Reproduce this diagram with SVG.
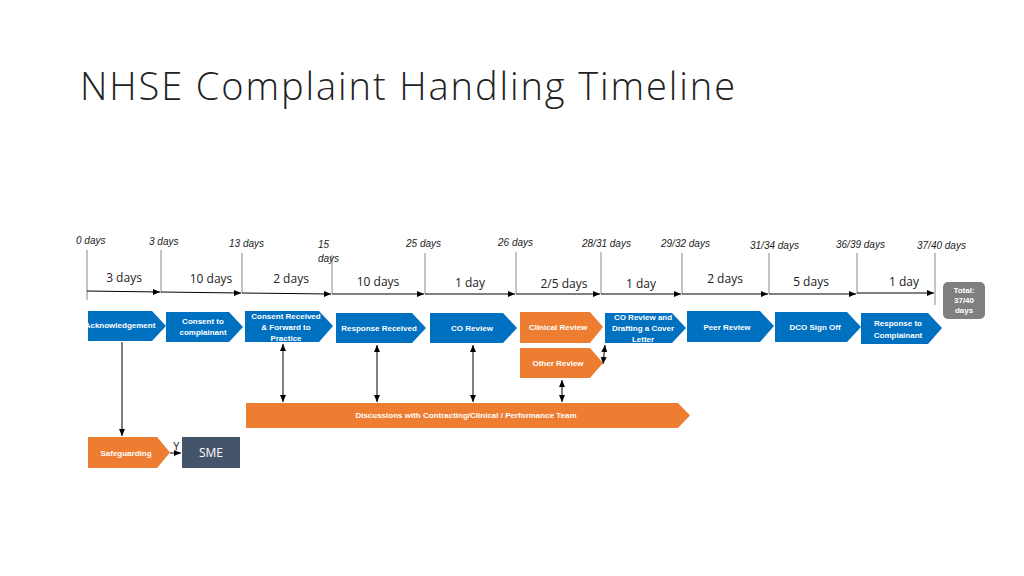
<svg xmlns="http://www.w3.org/2000/svg" width="1024" height="576" viewBox="0 0 1024 576">
<defs>
<marker id="ah" markerWidth="8" markerHeight="8" refX="7" refY="4" orient="auto" markerUnits="userSpaceOnUse"><path d="M0,1 L7,4 L0,7 z" fill="#000"/></marker>
<marker id="as" markerWidth="8" markerHeight="8" refX="1" refY="4" orient="auto" markerUnits="userSpaceOnUse"><path d="M8,1 L1,4 L8,7 z" fill="#000"/></marker>
</defs>
<style>
.b{fill:#0070C0}.o{fill:#ED7D31}
.t{font-family:"Liberation Sans",Arial,sans-serif;font-size:8px;font-weight:bold;fill:#fff;text-anchor:middle}
.d{font-family:"Liberation Sans",Arial,sans-serif;font-size:10px;font-style:italic;fill:#222}
.u{font-family:"Open Sans",sans-serif;font-size:12px;fill:#222;text-anchor:middle}
.tk{stroke:#888;stroke-width:1}
.c{stroke:#000;stroke-width:1;fill:none}
</style>
<rect width="1024" height="576" fill="#fff"/>
<text x="80" y="100" font-family="Open Sans,sans-serif" font-weight="300" font-size="38" fill="#222" textLength="655">NHSE Complaint Handling Timeline</text>
<g id="scale">
<g class="tk">
<line x1="87" y1="250" x2="87" y2="300"/><line x1="161" y1="250" x2="161" y2="293"/><line x1="242" y1="253" x2="242" y2="293"/><line x1="332" y1="255" x2="332" y2="294"/><line x1="425" y1="253" x2="425" y2="294"/><line x1="516" y1="252" x2="516" y2="294"/><line x1="601" y1="252" x2="601" y2="294"/><line x1="682" y1="253" x2="682" y2="294"/><line x1="769" y1="253" x2="769" y2="294"/><line x1="857" y1="253" x2="857" y2="294"/><line x1="935" y1="253" x2="935" y2="305"/>
</g>
<text class="d" x="76" y="244">0 days</text><text class="d" x="149" y="245">3 days</text><text class="d" x="229" y="247">13 days</text><text class="d" x="318" y="248">15</text><text class="d" x="318" y="262">days</text><text class="d" x="406" y="247">25 days</text><text class="d" x="498" y="246">26 days</text><text class="d" x="582" y="247">28/31 days</text><text class="d" x="661" y="247">29/32 days</text><text class="d" x="750" y="249">31/34 days</text><text class="d" x="836" y="248">36/39 days</text><text class="d" x="917" y="249">37/40 days</text>
<text class="u" x="124" y="282">3 days</text><text class="u" x="211" y="283">10 days</text><text class="u" x="291" y="283">2 days</text><text class="u" x="378" y="286">10 days</text><text class="u" x="470" y="287">1 day</text><text class="u" x="564" y="288">2/5 days</text><text class="u" x="641" y="288">1 day</text><text class="u" x="725" y="283">2 days</text><text class="u" x="811" y="286">5 days</text><text class="u" x="904" y="286">1 day</text>
</g>
<g id="connectors">
<line class="c" x1="87" y1="291" x2="160" y2="292" marker-end="url(#ah)"/>
<line class="c" x1="161" y1="292" x2="241" y2="293" marker-end="url(#ah)"/>
<line class="c" x1="242" y1="293" x2="331" y2="294" marker-end="url(#ah)"/>
<line class="c" x1="332" y1="294" x2="424" y2="294" marker-end="url(#ah)"/>
<line class="c" x1="425" y1="294" x2="515" y2="294" marker-end="url(#ah)"/>
<line class="c" x1="516" y1="294" x2="600" y2="294" marker-end="url(#ah)"/>
<line class="c" x1="601" y1="294" x2="681" y2="294" marker-end="url(#ah)"/>
<line class="c" x1="682" y1="294" x2="768" y2="294" marker-end="url(#ah)"/>
<line class="c" x1="769" y1="294" x2="856" y2="294" marker-end="url(#ah)"/>
<line class="c" x1="857" y1="293" x2="934" y2="293" marker-end="url(#ah)"/>
<line class="c" x1="122" y1="342" x2="122" y2="436" marker-end="url(#ah)"/>
<line class="c" x1="170" y1="453" x2="181" y2="453" marker-end="url(#ah)"/>
<line class="c" x1="283" y1="344" x2="283" y2="402" marker-start="url(#as)" marker-end="url(#ah)"/>
<line class="c" x1="377" y1="345" x2="377" y2="402" marker-start="url(#as)" marker-end="url(#ah)"/>
<line class="c" x1="473" y1="345" x2="473" y2="402" marker-start="url(#as)" marker-end="url(#ah)"/>
<line class="c" x1="562" y1="380" x2="562" y2="402" marker-start="url(#as)" marker-end="url(#ah)"/>
<line class="c" x1="605" y1="345" x2="603" y2="364" marker-start="url(#as)" marker-end="url(#ah)"/>
<text x="173" y="450" font-family="Liberation Sans,sans-serif" font-size="10" fill="#222">Y</text>
</g>
<g id="n1"><path class="b" d="M88,311 H152 L166,326 L152,341 H88z"/><text class="t" x="120" y="328" font-size="6">Acknowledgement</text></g>
<g id="n2"><path class="b" d="M166,312 H229 L243,327 L229,342 H166z"/><text class="t" x="203" y="324">Consent to</text><text class="t" x="203" y="335">complainant</text></g>
<g id="n3"><path class="b" d="M245,311 H319 L333,326 L319,342 H245z"/><text class="t" x="286" y="319">Consent Received</text><text class="t" x="286" y="330">&amp; Forward to</text><text class="t" x="286" y="341">Practice</text></g>
<g id="n4"><path class="b" d="M336,313 H412 L426,328 L412,343 H336z"/><text class="t" x="379" y="331">Response Received</text></g>
<g id="n5"><path class="b" d="M430,313 H503 L517,328 L503,343 H430z"/><text class="t" x="472" y="331">CO Review</text></g>
<g id="n6"><path class="o" d="M520,312 H590 L603,327 L590,343 H520z"/><text class="t" x="558" y="330">Clinical Review</text></g>
<g id="n7"><path class="o" d="M520,348 H590 L603,363 L590,378 H520z"/><text class="t" x="558" y="366">Other Review</text></g>
<g id="n8"><path class="b" d="M605,313 H672 L686,328 L672,343 H605z"/><text class="t" x="643" y="320">CO Review and</text><text class="t" x="643" y="331">Drafting a Cover</text><text class="t" x="643" y="342">Letter</text></g>
<g id="n9"><path class="b" d="M687,311 H760 L774,326 L760,342 H687z"/><text class="t" x="727" y="330">Peer Review</text></g>
<g id="n10"><path class="b" d="M775,312 H847 L861,327 L847,342 H775z"/><text class="t" x="815" y="330">DCO Sign Off</text></g>
<g id="n11"><path class="b" d="M861,313 H928 L942,328 L928,344 H861z"/><text class="t" x="898" y="326">Response to</text><text class="t" x="898" y="338">Complainant</text></g>
<g id="total"><rect x="943" y="282" width="42" height="37" rx="5" fill="#7F7F7F"/><text class="t" x="964" y="293" font-size="6.5">Total:</text><text class="t" x="964" y="303" font-size="6.5">37/40</text><text class="t" x="964" y="313" font-size="6.5">days</text></g>
<g id="n12"><path class="o" d="M246,403 H678 L690,415.5 L678,428 H246z"/><text class="t" x="466" y="418" font-size="7">Discussions with Contracting/Clinical / Performance Team</text></g>
<g id="n13"><path class="o" d="M88,437 H157 L170,452.5 L157,468 H88z"/><text class="t" x="126" y="456" font-size="7">Safeguarding</text></g>
<g id="n14"><rect x="182" y="437" width="58" height="31" fill="#44546A"/><text x="211" y="457" font-family="Open Sans,sans-serif" font-size="12" fill="#fff" text-anchor="middle">SME</text></g>
</svg>
